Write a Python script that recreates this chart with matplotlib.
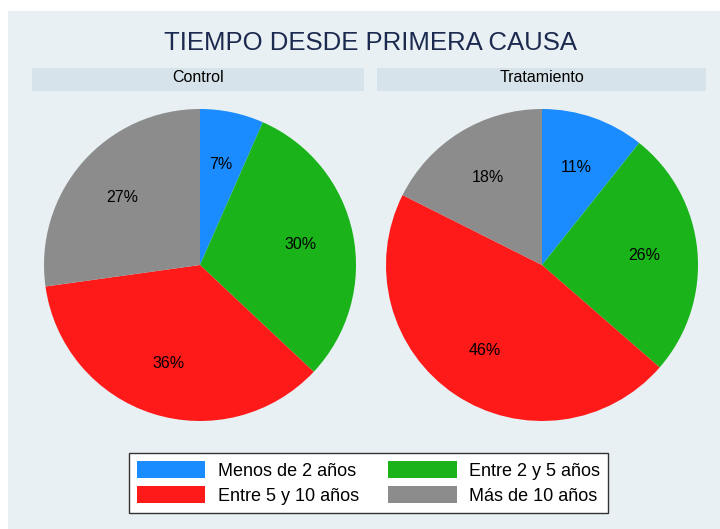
import matplotlib.pyplot as plt
from matplotlib.patches import Rectangle, Patch

plt.rcParams["font.family"] = ["Liberation Sans", "DejaVu Sans"]

# Data (shares, labels rounded)
categories = ["Menos de 2 años", "Entre 2 y 5 años", "Entre 5 y 10 años", "Más de 10 años"]
control = [6.6, 30.4, 35.8, 27.2]
tratamiento = [10.7, 25.7, 46.0, 17.6]
groups = ["Control", "Tratamiento"]
colors = ["#1a8cff", "#1ab31a", "#ff1a1a", "#8c8c8c"]

W, H = 720, 529
fig = plt.figure(figsize=(W / 100, H / 100), dpi=100, facecolor="white")


def px(x0, y0, x1, y1):
    # pixel box (top-left origin) -> figure fraction rect
    return [x0 / W, 1 - y1 / H, (x1 - x0) / W, (y1 - y0) / H]


# outer light background
bg = px(8, 11, 720, 529)
fig.patches.append(Rectangle((bg[0], bg[1]), bg[2], bg[3], transform=fig.transFigure,
                             facecolor="#e8f0f3", edgecolor="none", zorder=-2))

fig.text(371 / W, 1 - 42.5 / H, "TIEMPO DESDE PRIMERA CAUSA", ha="center", va="center",
         fontsize=18.5, color="#1c2a4f")

panels = [(32, 364, 200), (377, 706, 542)]
R = 156
for (x0, x1, cx), name, vals in zip(panels, groups, [control, tratamiento]):
    hb = px(x0, 68, x1, 91)
    fig.patches.append(Rectangle((hb[0], hb[1]), hb[2], hb[3], transform=fig.transFigure,
                                 facecolor="#d7e3ea", edgecolor="none", zorder=-1))
    fig.text((x0 + x1) / 2 / W, 1 - 77 / H, name, ha="center", va="center",
             fontsize=11.5, color="black")

    ax = fig.add_axes(px(x0, 91, x1, 441))
    ax.set_zorder(2)
    ax.set_facecolor("white")
    ax.pie(vals, colors=colors, startangle=90, counterclock=False,
           center=((cx - (x0 + x1) / 2) / R, (266 - 265) / R), radius=1,
           autopct="%.0f%%", pctdistance=0.66,
           textprops={"fontsize": 11.5, "color": "black"},
           wedgeprops={"linewidth": 0})
    ax.set_xlim(-(x1 - x0) / 2 / R, (x1 - x0) / 2 / R)
    ax.set_ylim(-175 / R, 175 / R)
    ax.set_aspect("auto")
    ax.set_xticks([])
    ax.set_yticks([])
    for s in ax.spines.values():
        s.set_visible(False)

# legend: row-wise order like the original
order = [0, 2, 1, 3]
handles = [Patch(facecolor=colors[i], edgecolor="none", label=categories[i]) for i in order]
leg = fig.legend(handles=handles, ncol=2, loc="center",
                 bbox_to_anchor=(368.5 / W, 1 - 483 / H),
                 fontsize=13, handlelength=3.8, handleheight=1.05, handletextpad=0.7,
                 columnspacing=1.6, labelspacing=0.35, borderpad=0.45,
                 fancybox=False, edgecolor="#333333", framealpha=1)
leg.get_frame().set_linewidth(1.0)
leg.set_zorder(3)

fig.savefig("out.png", dpi=100, facecolor="white")
